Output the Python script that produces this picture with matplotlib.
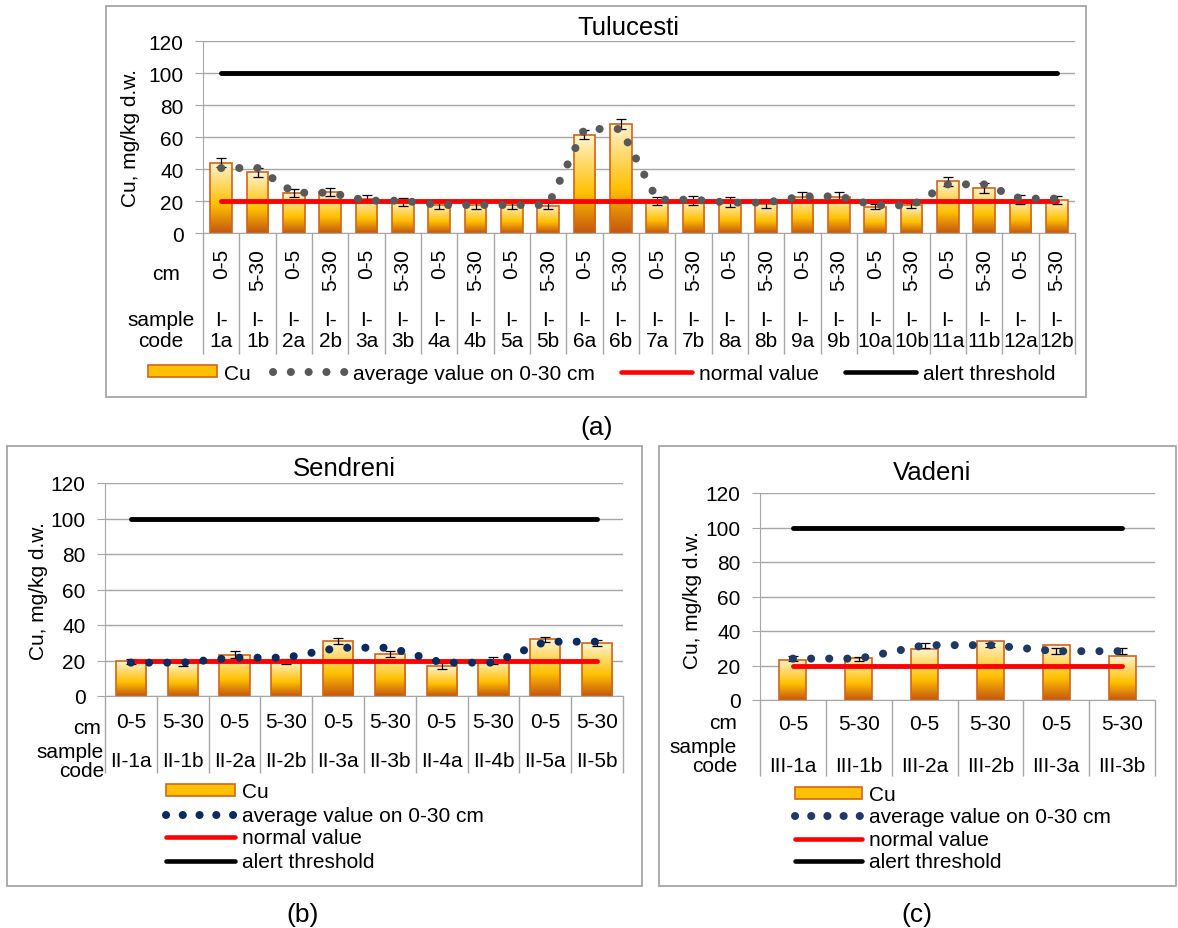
import numpy as np
import matplotlib
matplotlib.use("Agg")
import matplotlib.pyplot as plt
from matplotlib.colors import LinearSegmentedColormap
from matplotlib.patches import Rectangle, Patch
from matplotlib.lines import Line2D
from matplotlib.transforms import blended_transform_factory

plt.rcParams['font.family'] = ['Liberation Sans', 'DejaVu Sans']

# ---- data ----
# (a) Tulucesti
tul_codes = ["I-\n1a", "I-\n1b", "I-\n2a", "I-\n2b", "I-\n3a", "I-\n3b", "I-\n4a", "I-\n4b",
             "I-\n5a", "I-\n5b", "I-\n6a", "I-\n6b", "I-\n7a", "I-\n7b", "I-\n8a", "I-\n8b",
             "I-\n9a", "I-\n9b", "I-\n10a", "I-\n10b", "I-\n11a", "I-\n11b", "I-\n12a", "I-\n12b"]
tul_depth = ["0-5", "5-30"] * 12
tul_cu = [44, 38, 25.2, 25.4, 21.5, 19.5, 17.8, 17.8, 17.8, 17.0, 61.5, 68.2,
          20.0, 20.6, 19.4, 18.2, 22.8, 22.8, 16.5, 17.2, 32.3, 28.3, 20.8, 20.6]
tul_err = [2.8, 2.8, 2.6, 2.5, 2.4, 2.4, 2.8, 2.6, 2.8, 2.0, 2.8, 2.9,
           2.6, 2.8, 2.9, 2.4, 2.6, 2.6, 1.7, 1.8, 2.8, 3.1, 2.8, 2.6]
tul_avg = [40.6, 40.6, 25.2, 25.2, 20.2, 20.2, 17.5, 17.5, 17.5, 17.5, 65.0, 65.0,
           20.8, 20.8, 19.0, 19.0, 22.9, 22.9, 17.3, 17.3, 30.4, 30.4, 21.5, 21.5]

# (b) Sendreni
sen_codes = ["II-1a", "II-1b", "II-2a", "II-2b", "II-3a", "II-3b", "II-4a", "II-4b", "II-5a", "II-5b"]
sen_depth = ["0-5", "5-30"] * 5
sen_cu = [19.5, 18.5, 23.2, 19.5, 31.1, 23.8, 16.7, 20.0, 31.9, 29.6]
sen_err = [1.5, 1.5, 2.0, 1.5, 1.8, 1.8, 1.7, 1.8, 1.6, 1.7]
sen_avg = [18.8, 18.8, 21.6, 21.6, 27.2, 27.2, 18.8, 18.8, 30.6, 30.6]

# (c) Vadeni
vad_codes = ["III-1a", "III-1b", "III-2a", "III-2b", "III-3a", "III-3b"]
vad_depth = ["0-5", "5-30"] * 3
vad_cu = [23.4, 24.6, 29.8, 34.2, 31.8, 25.4]
vad_avg = [24.0, 24.0, 31.8, 31.8, 28.3, 28.3]
vad_err = [1.5, 1.2, 1.4, 1.3, 1.7, 1.7]

normal_value = 20
alert_threshold = 100

# ---- styling ----
W, H = 1178, 929
FS = 15
GRID = '#A6A6A6'
EDGE = '#D0661C'
DOT_LW = 5.8
DOTS = (0, (0.01, 2.24))
cu_cmap = LinearSegmentedColormap.from_list(
    'cu', [(0, '#C4560F'), (0.4, '#FFC000'), (0.78, '#FFE083'), (1, '#FFF5D6')])
grad = np.linspace(0, 1, 256).reshape(-1, 1)

fig = plt.figure(figsize=(W / 100, H / 100), dpi=100)


def fx(x):
    return x / W


def fy(y):
    return 1 - y / H


def frame(x0, y0, x1, y1):
    fig.add_artist(Rectangle((fx(x0), fy(y1)), (x1 - x0) / W, (y1 - y0) / H,
                             transform=fig.transFigure, fill=False, edgecolor=GRID, lw=1.3))


def legend_item(handle, label, x, y, hl, hh=0.5):
    fig.legend([handle], [label], loc='center left', bbox_to_anchor=(fx(x), fy(y)),
               frameon=False, borderpad=0, borderaxespad=0, handlelength=hl,
               handleheight=hh, handletextpad=0.35, fontsize=FS)


def panel(box, cu, avg, err, depths, codes, bar_w, dot_color, err_on_avg, rotate_depth,
          depth_y, code_y, sep_bottom):
    left, top, right, bottom = box
    ax = fig.add_axes([fx(left), fy(bottom), (right - left) / W, (bottom - top) / H])
    n = len(cu)
    x = np.arange(n)
    bars = ax.bar(x, cu, width=bar_w, facecolor='none', edgecolor=EDGE, lw=1.2, zorder=3)
    for b in bars:
        ax.imshow(grad, cmap=cu_cmap, origin='lower', aspect='auto', zorder=2.5,
                  extent=(b.get_x(), b.get_x() + b.get_width(), 0, b.get_height()))
    ax.errorbar(x, avg if err_on_avg else cu, yerr=err, fmt='none', ecolor='black',
                elinewidth=0.9, capsize=3.5, capthick=0.9, zorder=4)
    ax.plot(x, [normal_value] * n, color='#FF0000', lw=3.5, solid_capstyle='round', zorder=5)
    ax.plot(x, [alert_threshold] * n, color='black', lw=3.5, solid_capstyle='round', zorder=5)
    ax.plot(x, avg, color=dot_color, lw=DOT_LW, ls=DOTS, dash_capstyle='round', zorder=6)

    ax.set_xlim(-0.5, n - 0.5)
    ax.set_ylim(0, 120)
    ax.set_yticks(range(0, 121, 20))
    ax.yaxis.grid(True, color=GRID, lw=1)
    ax.set_axisbelow(True)
    for s in ['top', 'right']:
        ax.spines[s].set_visible(False)
    for s in ['left', 'bottom']:
        ax.spines[s].set_color(GRID)
    ax.tick_params(axis='y', length=6, color=GRID, pad=8, labelsize=FS)
    ax.set_xticks(np.arange(n + 1) - 0.5)
    ax.set_xticklabels([])
    ax.tick_params(axis='x', length=(sep_bottom - bottom) * 0.72, color=GRID, width=1)

    tr = blended_transform_factory(ax.transData, fig.transFigure)
    for i in range(n):
        if rotate_depth:
            ax.text(x[i], fy(depth_y), depths[i], transform=tr, rotation=90,
                    ha='center', va='top', fontsize=FS)
        else:
            ax.text(x[i], fy(depth_y), depths[i], transform=tr, ha='center', va='center', fontsize=FS)
        ax.text(x[i], fy(code_y), codes[i], transform=tr, ha='center', va='center',
                fontsize=FS, linespacing=1.15)
    return ax


def dot_handle(color, gap):
    return Line2D([], [], color=color, lw=DOT_LW, ls=(0, (0.01, gap)), dash_capstyle='round')


def red_handle():
    return Line2D([], [], color='#FF0000', lw=3.3, solid_capstyle='round')


def black_handle():
    return Line2D([], [], color='black', lw=3.3, solid_capstyle='round')


cu_handle = Patch(facecolor='#FFC000', edgecolor=EDGE, lw=1.2)

# ---- (a) Tulucesti ----
frame(105.7, 7, 1085.7, 398)
panel((203, 42, 1075, 234), tul_cu, tul_avg, tul_err, tul_depth, tul_codes, 0.6,
      '#595959', False, True, 249, 331, 355)
fig.text(fx(628), fy(28), 'Tulucesti', ha='center', va='center', fontsize=18.5)
fig.text(fx(131), fy(138), 'Cu, mg/kg d.w.', ha='center', va='center', rotation=90, fontsize=FS)
fig.text(fx(166), fy(275), 'cm', ha='center', va='center', fontsize=FS)
fig.text(fx(161), fy(331), 'sample\ncode', ha='center', va='center', fontsize=FS, linespacing=1.1)
fig.text(fx(597), fy(428), '(a)', ha='center', va='center', fontsize=19)

legend_item(cu_handle, 'Cu', 148, 374, 3.3)
legend_item(dot_handle('#595959', 2.2), 'average value on 0-30 cm', 273, 374, 3.5)
legend_item(red_handle(), 'normal value', 621, 374, 3.4)
legend_item(black_handle(), 'alert threshold', 845, 374, 3.4)

# ---- (b) Sendreni ----
frame(7, 447, 642, 887)
panel((105, 484, 623, 697), sen_cu, sen_avg, sen_err, sen_depth, sen_codes, 0.585,
      '#0B2A5E', False, False, 723, 762, 774)
fig.text(fx(344), fy(469), 'Sendreni', ha='center', va='center', fontsize=18.5)
fig.text(fx(38), fy(591), 'Cu, mg/kg d.w.', ha='center', va='center', rotation=90, fontsize=FS)
fig.text(fx(101), fy(729), 'cm', ha='right', va='center', fontsize=FS)
fig.text(fx(104), fy(762), 'sample\ncode', ha='right', va='center', fontsize=FS, linespacing=1.05)
fig.text(fx(303), fy(915), '(b)', ha='center', va='center', fontsize=19)

legend_item(cu_handle, 'Cu', 166, 793, 3.3)
legend_item(dot_handle('#0B2A5E', 2.07), 'average value on 0-30 cm', 166, 817, 3.3)
legend_item(red_handle(), 'normal value', 166, 839, 3.3)
legend_item(black_handle(), 'alert threshold', 166, 863, 3.3)

# ---- (c) Vadeni ----
frame(659, 447, 1176, 887)
panel((760, 494, 1155, 701), vad_cu, vad_avg, vad_err, vad_depth, vad_codes, 0.41,
      '#1F3864', True, False, 725, 766, 777)
fig.text(fx(932), fy(473), 'Vadeni', ha='center', va='center', fontsize=18.5)
fig.text(fx(692), fy(600), 'Cu, mg/kg d.w.', ha='center', va='center', rotation=90, fontsize=FS)
fig.text(fx(737), fy(724), 'cm', ha='right', va='center', fontsize=FS)
fig.text(fx(737), fy(757), 'sample\ncode', ha='right', va='center', fontsize=FS, linespacing=1.05)
fig.text(fx(917), fy(915), '(c)', ha='center', va='center', fontsize=19)

legend_item(cu_handle, 'Cu', 795, 796, 3.2)
legend_item(dot_handle('#1F3864', 2.0), 'average value on 0-30 cm', 795, 818, 3.2)
legend_item(red_handle(), 'normal value', 795, 841, 3.2)
legend_item(black_handle(), 'alert threshold', 795, 863, 3.2)

fig.savefig('out.png', dpi=100)
